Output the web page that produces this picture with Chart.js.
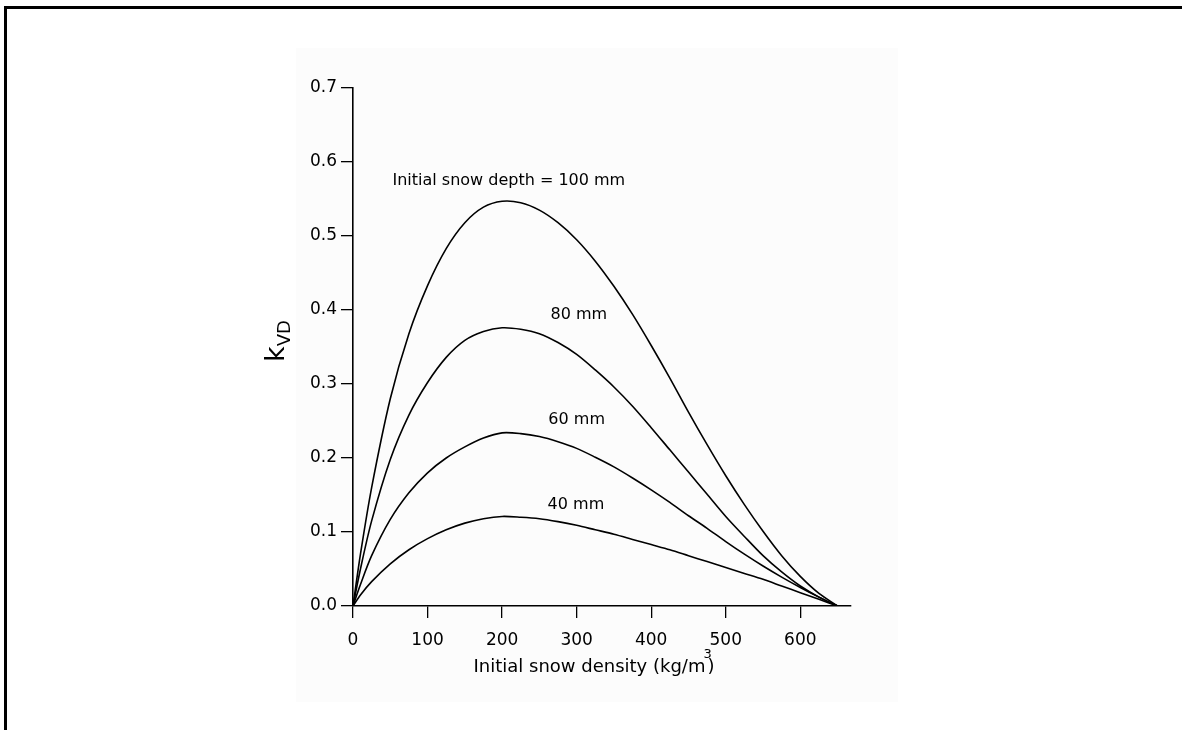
<!DOCTYPE html>
<html>
<head>
<meta charset="utf-8">
<script src="https://cdn.jsdelivr.net/npm/chart.js@4.4.1/dist/chart.umd.min.js"></script>
<style>
  html, body { margin: 0; padding: 0; background: #fff; }
  #wrap { width: 1182px; height: 730px; position: relative; }
</style>
</head>
<body>
<div id="wrap"><canvas id="c" width="1182" height="730"></canvas></div>
<script>
// Data
const density = [0, 10, 25, 50, 75, 100, 125, 150, 175, 200, 225, 250, 275, 300, 325, 350, 375, 400, 425, 450, 475, 500, 525, 550, 575, 600, 625, 650];
const depth100 = [0, 0.07, 0.16, 0.28, 0.368, 0.433, 0.483, 0.518, 0.539, 0.547, 0.545, 0.535, 0.518, 0.495, 0.466, 0.432, 0.394, 0.352, 0.308, 0.262, 0.218, 0.176, 0.137, 0.101, 0.068, 0.040, 0.017, 0];
const depth80  = [0, 0.05, 0.115, 0.198, 0.258, 0.302, 0.336, 0.359, 0.371, 0.376, 0.374, 0.368, 0.356, 0.340, 0.319, 0.296, 0.270, 0.241, 0.211, 0.181, 0.151, 0.121, 0.094, 0.068, 0.046, 0.027, 0.012, 0];
const depth60  = [0, 0.029, 0.068, 0.117, 0.153, 0.180, 0.200, 0.215, 0.227, 0.234, 0.233, 0.229, 0.222, 0.213, 0.201, 0.188, 0.173, 0.157, 0.140, 0.122, 0.105, 0.087, 0.070, 0.054, 0.039, 0.025, 0.012, 0];
const depth40  = [0, 0.015, 0.033, 0.057, 0.076, 0.091, 0.103, 0.112, 0.118, 0.121, 0.120, 0.118, 0.114, 0.109, 0.103, 0.097, 0.090, 0.083, 0.076, 0.068, 0.060, 0.052, 0.044, 0.036, 0.027, 0.018, 0.009, 0];
const seriesLabels = ["Initial snow depth = 100 mm", "80 mm", "60 mm", "40 mm"];
const xTicks = [0, 100, 200, 300, 400, 500, 600];
const yTicks = [0, 0.1, 0.2, 0.3, 0.4, 0.5, 0.6, 0.7];
// label anchor positions in data units
const labelX = [209, 303, 300, 299];
const labelY = [0.574, 0.394, 0.251, 0.137];

const FONT = "'DejaVu Sans', 'Liberation Sans', Arial, sans-serif";

function mk(values) {
  return {
    data: density.map((x, i) => ({ x: x, y: values[i] })),
    borderColor: '#000',
    borderWidth: 1.6,
    pointRadius: 0,
    tension: 0.3,
    cubicInterpolationMode: 'default',
    fill: false
  };
}

const decor = {
  id: 'decor',
  beforeDraw(chart) {
    const ctx = chart.ctx;
    ctx.save();
    ctx.fillStyle = '#fff';
    ctx.fillRect(0, 0, chart.width, chart.height);
    ctx.fillStyle = '#fcfcfc';
    ctx.fillRect(296, 48, 602, 654);
    ctx.fillStyle = '#000';
    ctx.fillRect(4, 6, 1178, 3);
    ctx.fillRect(4, 6, 3, 724);
    ctx.restore();
  },
  afterDraw(chart) {
    const ctx = chart.ctx;
    const xs = chart.scales.x, ys = chart.scales.y;
    ctx.save();
    ctx.fillStyle = '#000';
    ctx.font = '16px ' + FONT;
    ctx.textAlign = 'center';
    ctx.textBaseline = 'middle';
    seriesLabels.forEach((t, i) => {
      ctx.fillText(t, xs.getPixelForValue(labelX[i]), ys.getPixelForValue(labelY[i]));
    });
    // x axis title
    ctx.font = '18px ' + FONT;
    ctx.textAlign = 'left';
    ctx.textBaseline = 'alphabetic';
    const main = 'Initial snow density (kg/m';
    const w1 = ctx.measureText(main).width;
    const w3 = ctx.measureText(')').width;
    const total = w1 + w3 + 2;
    const cx = 594;
    let x0 = cx - total / 2;
    const by = 672;
    ctx.fillText(main, x0, by);
    ctx.fillText(')', x0 + w1 + 2, by);
    ctx.font = '13px ' + FONT;
    ctx.fillText('3', x0 + w1 - 2, by - 14);
    // y axis title k_VD rotated
    ctx.translate(284, 342);
    ctx.rotate(-Math.PI / 2);
    ctx.font = '27px ' + FONT;
    ctx.textAlign = 'left';
    ctx.textBaseline = 'alphabetic';
    const kw = ctx.measureText('k').width;
    ctx.fillText('k', -20, 0);
    ctx.font = '18px ' + FONT;
    ctx.fillText('VD', -20 + kw, 6);
    ctx.restore();
  }
};

new Chart(document.getElementById('c'), {
  type: 'line',
  data: { datasets: [mk(depth100), mk(depth80), mk(depth60), mk(depth40)] },
  options: {
    responsive: false,
    animation: false,
    devicePixelRatio: 1,
    layout: { padding: { left: 0, right: 331, top: 88, bottom: 0 } },
    plugins: { legend: { display: false }, tooltip: { enabled: false } },
    scales: {
      x: {
        type: 'linear',
        min: 0,
        max: 668,
        afterBuildTicks(axis) { axis.ticks = xTicks.map(v => ({ value: v })); },
        afterFit(axis) { axis.height = 124; },
        border: { display: true, color: '#000', width: 1.6 },
        grid: { display: true, drawOnChartArea: false, drawTicks: true, tickLength: 12, color: '#000', lineWidth: 1.3 },
        ticks: { color: '#000', font: { family: FONT, size: 17 }, padding: 12, maxRotation: 0,
                 callback: v => String(v) }
      },
      y: {
        type: 'linear',
        min: 0,
        max: 0.7,
        afterBuildTicks(axis) { axis.ticks = yTicks.map(v => ({ value: v })); },
        afterFit(axis) { axis.width = 353; },
        border: { display: true, color: '#000', width: 1.6 },
        grid: { display: true, drawOnChartArea: false, drawTicks: true, tickLength: 12, color: '#000', lineWidth: 1.3 },
        ticks: { color: '#000', font: { family: FONT, size: 17 }, padding: 4,
                 callback: v => Number(v).toFixed(1) }
      }
    }
  },
  plugins: [decor]
});
</script>
</body>
</html>
